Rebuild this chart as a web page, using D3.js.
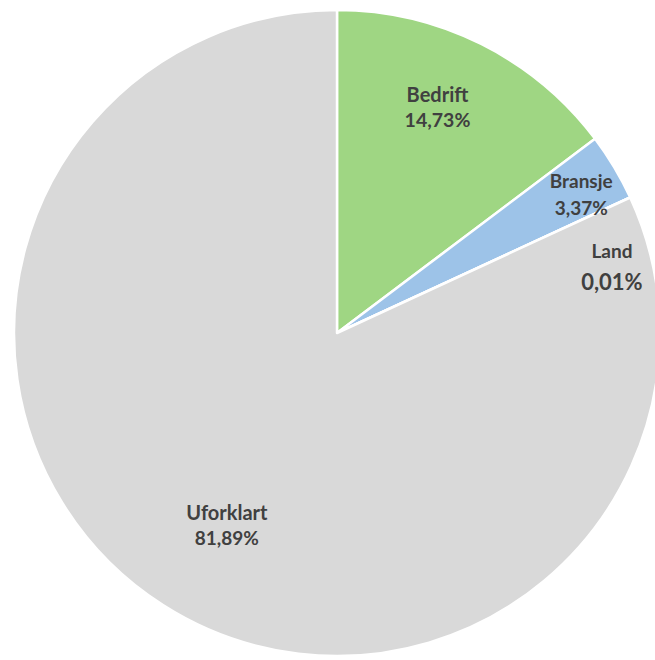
<!DOCTYPE html>
<html>
<head>
<meta charset="utf-8">
<script src="https://cdn.jsdelivr.net/npm/d3@7"></script>
<style>
  html, body { margin: 0; padding: 0; background: #ffffff; }
  svg { display: block; }
  text { font-family: Lato, "Open Sans", sans-serif; font-weight: bold; fill: #404040; }
</style>
</head>
<body>
<svg id="chart" width="655" height="660"></svg>
<script>
// Variance decomposition shares (percent)
const categories = ["Bedrift", "Bransje", "Land", "Uforklart"];
const values = [14.73, 3.37, 0.01, 81.89];
const valueLabels = ["14,73%", "3,37%", "0,01%", "81,89%"];
const colors = ["#9fd683", "#9dc3e8", "#d9d9d9", "#d9d9d9"];

// Label placement: baseline of the name line in polar terms
// (degrees clockwise from 12 o'clock, distance from centre in px),
// then the distance down to the value line.
const labelAngle = [23.5, 59.3, 74.7, 210.5];
const labelRadius = [252, 284, 285, 217];
const labelGap = [25, 27, 32, 25];
const nameFont = [20, 19, 19, 20];
const valueFont = [19.5, 19, 22, 19];

const width = 655, height = 660;
const cx = 337, cy = 333, radius = 323;

const svg = d3.select("#chart");
const g = svg.append("g").attr("transform", `translate(${cx},${cy})`);

const pie = d3.pie().sort(null).value(d => d.value);
const arcs = pie(categories.map((c, i) => ({ name: c, value: values[i], idx: i })));

const arc = d3.arc().innerRadius(0).outerRadius(radius);

g.selectAll("path.slice")
  .data(arcs)
  .join("path")
  .attr("class", "slice")
  .attr("d", arc)
  .attr("fill", d => colors[d.data.idx])
  .attr("stroke", "#ffffff")
  .attr("stroke-width", 2.5)
  .attr("stroke-linejoin", "round");

const labels = g.selectAll("g.label")
  .data(arcs)
  .join("g")
  .attr("class", "label")
  .attr("transform", d => {
    const i = d.data.idx;
    const a = labelAngle[i] * Math.PI / 180;
    const r = labelRadius[i];
    return `translate(${r * Math.sin(a)},${-r * Math.cos(a)})`;
  });

labels.append("text")
  .attr("text-anchor", "middle")
  .attr("y", 0)
  .style("font-size", d => nameFont[d.data.idx] + "px")
  .text(d => d.data.name);

labels.append("text")
  .attr("text-anchor", "middle")
  .attr("y", d => labelGap[d.data.idx])
  .style("font-size", d => valueFont[d.data.idx] + "px")
  .text(d => valueLabels[d.data.idx]);
</script>
</body>
</html>
